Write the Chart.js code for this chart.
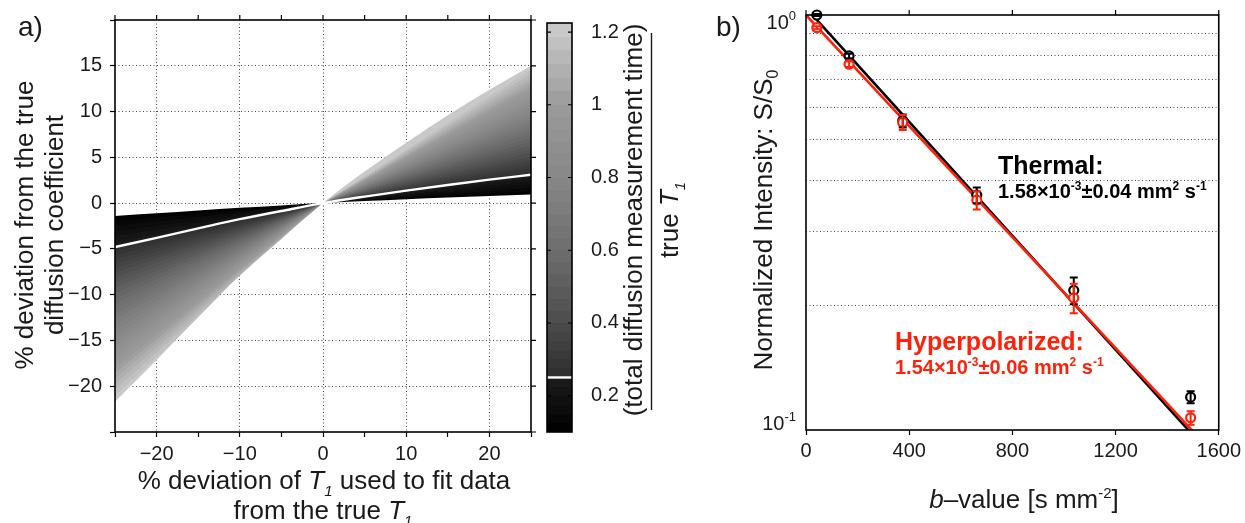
<!DOCTYPE html>
<html lang="en">
<head>
<meta charset="utf-8">
<title>T1 fitting error and diffusion decay</title>
<script src="https://cdn.jsdelivr.net/npm/chart.js@4.4.1/dist/chart.umd.min.js"></script>
<style>
  html, body { margin: 0; padding: 0; background: #fff; }
  body { position: relative; width: 1245px; height: 523px; overflow: hidden; }
  .box { position: absolute; top: 0; height: 523px; }
  #fanBox { left: 0; width: 545px; }
  #barBox { left: 540px; width: 160px; }
  #decayBox { left: 700px; width: 545px; }
</style>
</head>
<body>
<div class="box" id="fanBox"><canvas id="fan" width="545" height="523"></canvas></div>
<div class="box" id="barBox"><canvas id="cbar" width="160" height="523"></canvas></div>
<div class="box" id="decayBox"><canvas id="decay" width="545" height="523"></canvas></div>
<script>
const FONT = "'Liberation Sans', Arial, Helvetica, sans-serif";
const INK = '#1a1a1a';
const RED = 'rgb(255, 34, 10)';

// panel a: % error in D against % error of the T1 used in the fit,
// one curve per (total diffusion measurement time / true T1)
const devT1 = [-25, -20, -15, -10, -5, 0, 5, 10, 15, 20, 25];
const ratioLevels = [0.1, 0.25, 0.4, 0.6, 0.8, 1.0, 1.225];
const devD_r010 = [-1.40, -1.11, -0.81, -0.51, -0.25, 0, 0.22, 0.42, 0.61, 0.78, 0.95];
const devD_r025 = [-4.80, -3.79, -2.76, -1.75, -0.86, 0, 0.71, 1.36, 1.98, 2.56, 3.10];
const devD_r040 = [-7.60, -6.00, -4.37, -2.77, -1.37, 0, 1.17, 2.24, 3.26, 4.21, 5.10];
const devD_r060 = [-11.0, -8.69, -6.33, -4.02, -1.98, 0, 1.75, 3.34, 4.86, 6.27, 7.60];
const devD_r080 = [-14.5, -11.46, -8.34, -5.29, -2.61, 0, 2.30, 4.40, 6.40, 8.25, 10.0];
const devD_r100 = [-18.0, -14.22, -10.35, -6.57, -3.24, 0, 2.88, 5.50, 8.00, 10.31, 12.5];
const devD_r123 = [-21.7, -17.14, -12.48, -7.92, -3.91, 0, 3.45, 6.60, 9.60, 12.38, 15.0];
const fanCurves = [devD_r010, devD_r025, devD_r040, devD_r060, devD_r080, devD_r100, devD_r123];
const markedRatio = 0.25;

// colour bar (gray map, with a step at the marked ratio)
const cbarValues = [0.1, 0.25, 0.25, 0.4, 0.6, 0.8, 1.0, 1.225];
const cbarGrays = [0, 28, 45, 76, 110, 135, 155, 205];
const cbarTicks = [0.2, 0.4, 0.6, 0.8, 1.0, 1.2];
const contourSteps = 6;

// panel b: normalised signal against b-value
const bValues = [42, 167, 375, 662, 1038, 1491];
const thermalSignal = [1.0, 0.797, 0.556, 0.368, 0.217, 0.120];
const thermalError = [0.006, 0.010, 0.020, 0.016, 0.016, 0.004];
const hyperSignal = [0.932, 0.761, 0.551, 0.358, 0.208, 0.107];
const hyperError = [0.008, 0.012, 0.023, 0.018, 0.017, 0.004];
const thermalFit = { s0: 1.04, d: 1.58e-3 };
const hyperFit = { s0: 1.0, d: 1.54e-3 };
const bRange = [0, 1600];
const logGrid = [0.1, 0.2, 0.3, 0.4, 0.5, 0.6, 0.7, 0.8, 0.9, 1.0];

Chart.defaults.font.family = FONT;
Chart.defaults.color = INK;

const pairs = (xs, ys) => xs.map((x, i) => ({ x, y: ys[i] }));
const gray = g => { const v = Math.round(g); return `rgb(${v},${v},${v})`; };
const signed = v => (v < 0 ? '\u2212' + Math.abs(v) : String(v));
const fitLine = f => bRange.map(b => ({ x: b, y: f.s0 * Math.exp(-f.d * b) }));

// adds gradient stops as flat contour bands between the given (offset, gray) pairs
function addBandedStops(g, stops) {
  for (let i = 0; i < stops.length - 1; i++) {
    const a = stops[i], b = stops[i + 1];
    if (b.t - a.t < 1e-6) continue;
    for (let j = 0; j < contourSteps; j++) {
      const c = gray(a.g + (b.g - a.g) * (j + 0.5) / contourSteps);
      g.addColorStop(a.t + (b.t - a.t) * j / contourSteps, c);
      g.addColorStop(a.t + (b.t - a.t) * (j + 1) / contourSteps, c);
    }
  }
}

function fontOf(p) {
  return (p.italic ? 'italic ' : '') + (p.bold ? 'bold ' : '') + p.size + 'px ' + FONT;
}
function drawRich(ctx, parts, x, y, align, color) {
  let w = 0;
  parts.forEach(p => { ctx.font = fontOf(p); w += ctx.measureText(p.text).width; });
  let cx = align === 'center' ? x - w / 2 : (align === 'right' ? x - w : x);
  ctx.textAlign = 'left';
  ctx.textBaseline = 'alphabetic';
  parts.forEach(p => {
    ctx.font = fontOf(p);
    ctx.fillStyle = p.color || color || INK;
    ctx.fillText(p.text, cx, y + (p.dy || 0));
    cx += ctx.measureText(p.text).width;
  });
}
function drawRichVertical(ctx, parts, x, y, color) {
  ctx.save();
  ctx.translate(x, y);
  ctx.rotate(-Math.PI / 2);
  drawRich(ctx, parts, 0, 0, 'center', color);
  ctx.restore();
}
const T1 = size => [
  { text: 'T', size, italic: true },
  { text: '1', size: Math.round(size * 0.58), italic: true, dy: Math.round(size * 0.25) }
];

// box around the plot area plus outward ticks mirrored on top / right
const frameBox = {
  id: 'frameBox',
  afterDatasetsDraw(chart, args, opts) {
    const { ctx, chartArea: a, scales } = chart;
    ctx.save();
    ctx.strokeStyle = '#000';
    ctx.lineWidth = opts.width || 1.6;
    ctx.strokeRect(a.left, a.top, a.right - a.left, a.bottom - a.top);
    const len = opts.tickLength || 5;
    ctx.lineWidth = 1.2;
    ctx.beginPath();
    if (opts.top) scales.x.ticks.forEach(t => {
      const px = scales.x.getPixelForValue(t.value);
      ctx.moveTo(px, a.top); ctx.lineTo(px, a.top - len);
    });
    if (opts.right) scales.y.ticks.forEach(t => {
      const py = scales.y.getPixelForValue(t.value);
      ctx.moveTo(a.right, py); ctx.lineTo(a.right + len, py);
    });
    ctx.stroke();
    ctx.restore();
  }
};

// fan fill: conic gradient centred on the origin, stops at the level curves
function fanFill(context) {
  const chart = context.chart;
  if (!chart.chartArea) return 'rgba(0,0,0,0)';
  const { ctx, scales: { x, y } } = chart;
  const cx = x.getPixelForValue(0), cy = y.getPixelForValue(0);
  const g = ctx.createConicGradient(-Math.PI / 2, cx, cy);
  const offsetFor = (dx, dy) => {
    const t = (Math.atan2(dy, dx) + Math.PI / 2) / (2 * Math.PI);
    return ((t % 1) + 1) % 1;
  };
  [devT1.length - 1, 0].forEach(end => {
    const stops = [];
    for (let k = cbarValues.length - 1; k >= 0; k--) {
      const curve = fanCurves[ratioLevels.indexOf(cbarValues[k])];
      const px = x.getPixelForValue(devT1[end]);
      const py = y.getPixelForValue(curve[end]);
      stops.push({ t: offsetFor(px - cx, py - cy), g: cbarGrays[k] });
    }
    addBandedStops(g, stops);
  });
  return g;
}

const fanLabels = {
  id: 'fanLabels',
  afterDraw(chart) {
    const ctx = chart.ctx;
    drawRich(ctx, [{ text: 'a)', size: 28 }], 18, 36, 'left');
    drawRichVertical(ctx, [{ text: '% deviation from the true', size: 26 }], 33, 225);
    drawRichVertical(ctx, [{ text: 'diffusion coefficient', size: 26 }], 63, 225);
    drawRich(ctx, [{ text: '% deviation of ', size: 26 }, ...T1(26), { text: ' used to fit data', size: 26 }], 324, 489, 'center');
    drawRich(ctx, [{ text: 'from the true ', size: 26 }, ...T1(26)], 323, 519, 'center');
  }
};

const fanLine = (ys, extra) => Object.assign({
  data: pairs(devT1, ys), pointRadius: 0, borderWidth: 0,
  borderColor: 'rgba(0,0,0,0)', fill: false, cubicInterpolationMode: 'monotone'
}, extra);

new Chart(document.getElementById('fan'), {
  type: 'line',
  data: {
    datasets: [
      fanLine(devD_r010, { fill: '+1', backgroundColor: fanFill, order: 2 }),
      fanLine(devD_r123, { order: 3 }),
      fanLine(fanCurves[ratioLevels.indexOf(markedRatio)], { borderColor: '#fff', borderWidth: 2.4, order: 0 })
    ]
  },
  options: {
    responsive: false, animation: false, events: [], devicePixelRatio: 1,
    layout: { padding: { top: 18, right: 14, left: 0, bottom: 0 } },
    plugins: { legend: { display: false }, tooltip: { enabled: false }, frameBox: { top: true, right: true } },
    scales: {
      x: {
        type: 'linear', min: -25, max: 25,
        ticks: {
          stepSize: 5, autoSkip: false, maxRotation: 0, padding: 5, font: { size: 20 }, color: INK,
          callback: v => (v % 10 === 0 && Math.abs(v) < 25 ? signed(v) : '')
        },
        grid: {
          color: c => (c.tick && c.tick.value % 10 === 0 && Math.abs(c.tick.value) < 25 ? '#444' : 'rgba(0,0,0,0)'),
          lineWidth: 1, tickColor: '#000', tickLength: 5, tickWidth: 1.2
        },
        border: { display: false, dash: [1, 2.5] },
        afterFit: s => { s.height = 91; }
      },
      y: {
        type: 'linear', min: -25, max: 20,
        ticks: {
          stepSize: 5, autoSkip: false, padding: 8, font: { size: 20 }, color: INK,
          callback: v => (v > -25 && v < 20 ? signed(v) : '')
        },
        grid: {
          color: c => (c.tick && c.tick.value > -25 && c.tick.value < 20 ? '#444' : 'rgba(0,0,0,0)'),
          lineWidth: 1, tickColor: '#000', tickLength: 5, tickWidth: 1.2
        },
        border: { display: false, dash: [1, 2.5] },
        afterFit: s => { s.width = 115; }
      }
    }
  },
  plugins: [frameBox, fanLabels]
});

// colour bar
function cbarFill(context) {
  const chart = context.chart;
  if (!chart.chartArea) return '#777';
  const y = chart.scales.y;
  const v0 = cbarValues[0], vN = cbarValues[cbarValues.length - 1];
  const g = chart.ctx.createLinearGradient(0, y.getPixelForValue(v0), 0, y.getPixelForValue(vN));
  addBandedStops(g, cbarValues.map((v, k) => ({ t: (v - v0) / (vN - v0), g: cbarGrays[k] })));
  return g;
}

const cbarDecor = {
  id: 'cbarDecor',
  afterDatasetsDraw(chart) {
    const { ctx, chartArea: a, scales: { y } } = chart;
    ctx.save();
    const wy = y.getPixelForValue(markedRatio);
    ctx.strokeStyle = '#fff';
    ctx.lineWidth = 2.4;
    ctx.beginPath(); ctx.moveTo(a.left, wy); ctx.lineTo(a.right, wy); ctx.stroke();
    ctx.strokeStyle = '#000';
    ctx.lineWidth = 1.1;
    ctx.beginPath();
    cbarTicks.forEach(v => {
      const py = y.getPixelForValue(v);
      ctx.moveTo(a.left, py); ctx.lineTo(a.left + 4, py);
      ctx.moveTo(a.right, py); ctx.lineTo(a.right - 4, py);
    });
    ctx.stroke();
    ctx.lineWidth = 1.6;
    ctx.strokeRect(a.left, a.top, a.right - a.left, a.bottom - a.top);
    ctx.restore();
  },
  afterDraw(chart) {
    const ctx = chart.ctx;
    drawRichVertical(ctx, [{ text: '(total diffusion measurement time)', size: 26 }], 101.5, 220);
    ctx.save();
    ctx.strokeStyle = INK;
    ctx.lineWidth = 1.4;
    ctx.beginPath(); ctx.moveTo(111.5, 33); ctx.lineTo(111.5, 410); ctx.stroke();
    ctx.restore();
    drawRichVertical(ctx, [{ text: 'true ', size: 26 }, ...T1(26)], 138, 220);
  }
};

new Chart(document.getElementById('cbar'), {
  type: 'bar',
  data: {
    labels: [''],
    datasets: [{
      data: [[cbarValues[0], cbarValues[cbarValues.length - 1]]],
      backgroundColor: cbarFill, borderWidth: 0, barPercentage: 1, categoryPercentage: 1
    }]
  },
  options: {
    responsive: false, animation: false, events: [], devicePixelRatio: 1,
    layout: { padding: { left: 7, top: 16, bottom: 91, right: 0 } },
    plugins: { legend: { display: false }, tooltip: { enabled: false } },
    scales: {
      x: { display: false },
      y: {
        position: 'right', min: cbarValues[0], max: cbarValues[cbarValues.length - 1],
        afterBuildTicks: s => { s.ticks = cbarTicks.map(v => ({ value: v })); },
        ticks: { padding: 11, font: { size: 20 }, color: INK, callback: v => String(Number(v.toFixed(1))) },
        grid: { display: false },
        border: { display: false },
        afterFit: s => { s.width = 128; }
      }
    }
  },
  plugins: [cbarDecor]
});

// panel b
const errorBars = {
  id: 'errorBars',
  afterDatasetsDraw(chart, args, opts) {
    const { ctx, scales: { x, y } } = chart;
    ctx.save();
    ctx.lineWidth = 2;
    opts.series.forEach(s => {
      ctx.strokeStyle = s.color;
      s.values.forEach((v, i) => {
        const px = x.getPixelForValue(bValues[i]);
        const y1 = y.getPixelForValue(v + s.errors[i]);
        const y2 = y.getPixelForValue(v - s.errors[i]);
        ctx.beginPath();
        ctx.moveTo(px, y1); ctx.lineTo(px, y2);
        ctx.moveTo(px - 4, y1); ctx.lineTo(px + 4, y1);
        ctx.moveTo(px - 4, y2); ctx.lineTo(px + 4, y2);
        ctx.stroke();
      });
    });
    ctx.restore();
  }
};

const coeffText = (value, err, color) => [
  { text: value + '\u00d710', size: 20, bold: true },
  { text: '-3', size: 12, bold: true, dy: -8 },
  { text: '\u00b1' + err + ' mm', size: 20, bold: true },
  { text: '2', size: 12, bold: true, dy: -8 },
  { text: ' s', size: 20, bold: true },
  { text: '-1', size: 12, bold: true, dy: -8 }
].map(p => Object.assign(p, { color }));

const decayLabels = {
  id: 'decayLabels',
  afterDraw(chart) {
    const ctx = chart.ctx;
    drawRich(ctx, [{ text: 'b)', size: 28 }], 16, 36, 'left');
    drawRich(ctx, [{ text: '10', size: 20 }, { text: '0', size: 13, dy: -9 }], 96, 29, 'right');
    drawRich(ctx, [{ text: '10', size: 20 }, { text: '-1', size: 13, dy: -9 }], 96, 430, 'right');
    drawRichVertical(ctx, [{ text: 'Normalized Intensity: S/S', size: 26 }, { text: '0', size: 16, dy: 6 }], 72, 220);
    drawRich(ctx, [
      { text: 'b', size: 26, italic: true }, { text: '\u2013value [s mm', size: 26 },
      { text: '-2', size: 15, dy: -10 }, { text: ']', size: 26 }
    ], 324, 508, 'center');
    drawRich(ctx, [{ text: 'Thermal:', size: 25, bold: true }], 298, 174, 'left', '#000');
    drawRich(ctx, coeffText('1.58', '0.04', '#000'), 298, 198, 'left');
    drawRich(ctx, [{ text: 'Hyperpolarized:', size: 25, bold: true }], 195, 350, 'left', RED);
    drawRich(ctx, coeffText('1.54', '0.06', RED), 195, 374, 'left');
  }
};

const markerSet = (values, color, order) => ({
  data: pairs(bValues, values), showLine: false, order, clip: false,
  pointRadius: 4.5, pointBorderWidth: 2.2, pointBackgroundColor: '#fff',
  borderColor: color, pointBorderColor: color
});
const fitSet = (f, color, order) => ({
  data: fitLine(f), showLine: true, order, pointRadius: 0,
  borderColor: color, borderWidth: 2.6, fill: false
});

new Chart(document.getElementById('decay'), {
  type: 'scatter',
  data: {
    datasets: [
      fitSet(thermalFit, '#000', 3),
      fitSet(hyperFit, RED, 2),
      markerSet(thermalSignal, '#000', 1),
      markerSet(hyperSignal, RED, 0)
    ]
  },
  options: {
    responsive: false, animation: false, events: [], devicePixelRatio: 1,
    layout: { padding: { top: 14, right: 24, left: 0, bottom: 0 } },
    plugins: {
      legend: { display: false }, tooltip: { enabled: false },
      frameBox: { top: true, right: false },
      errorBars: {
        series: [
          { values: thermalSignal, errors: thermalError, color: '#000' },
          { values: hyperSignal, errors: hyperError, color: RED }
        ]
      }
    },
    scales: {
      x: {
        type: 'linear', min: bRange[0], max: bRange[1],
        ticks: {
          stepSize: 400, autoSkip: false, maxRotation: 0, padding: 4, font: { size: 20 }, color: INK,
          callback: v => String(v)
        },
        grid: { drawOnChartArea: false, tickColor: '#000', tickLength: 5, tickWidth: 1.2 },
        border: { display: false },
        afterFit: s => { s.height = 93; }
      },
      y: {
        type: 'logarithmic', min: 0.1, max: 1,
        afterBuildTicks: s => { s.ticks = logGrid.map(v => ({ value: v })); },
        ticks: { callback: () => '', font: { size: 20 } },
        grid: {
          color: c => (c.tick && c.tick.value > 0.15 && c.tick.value < 0.95 ? '#444' : 'rgba(0,0,0,0)'),
          lineWidth: 1, drawTicks: false
        },
        border: { display: false, dash: [1, 2.5] },
        afterFit: s => { s.width = 106; }
      }
    }
  },
  plugins: [errorBars, frameBox, decayLabels]
});
</script>
</body>
</html>
